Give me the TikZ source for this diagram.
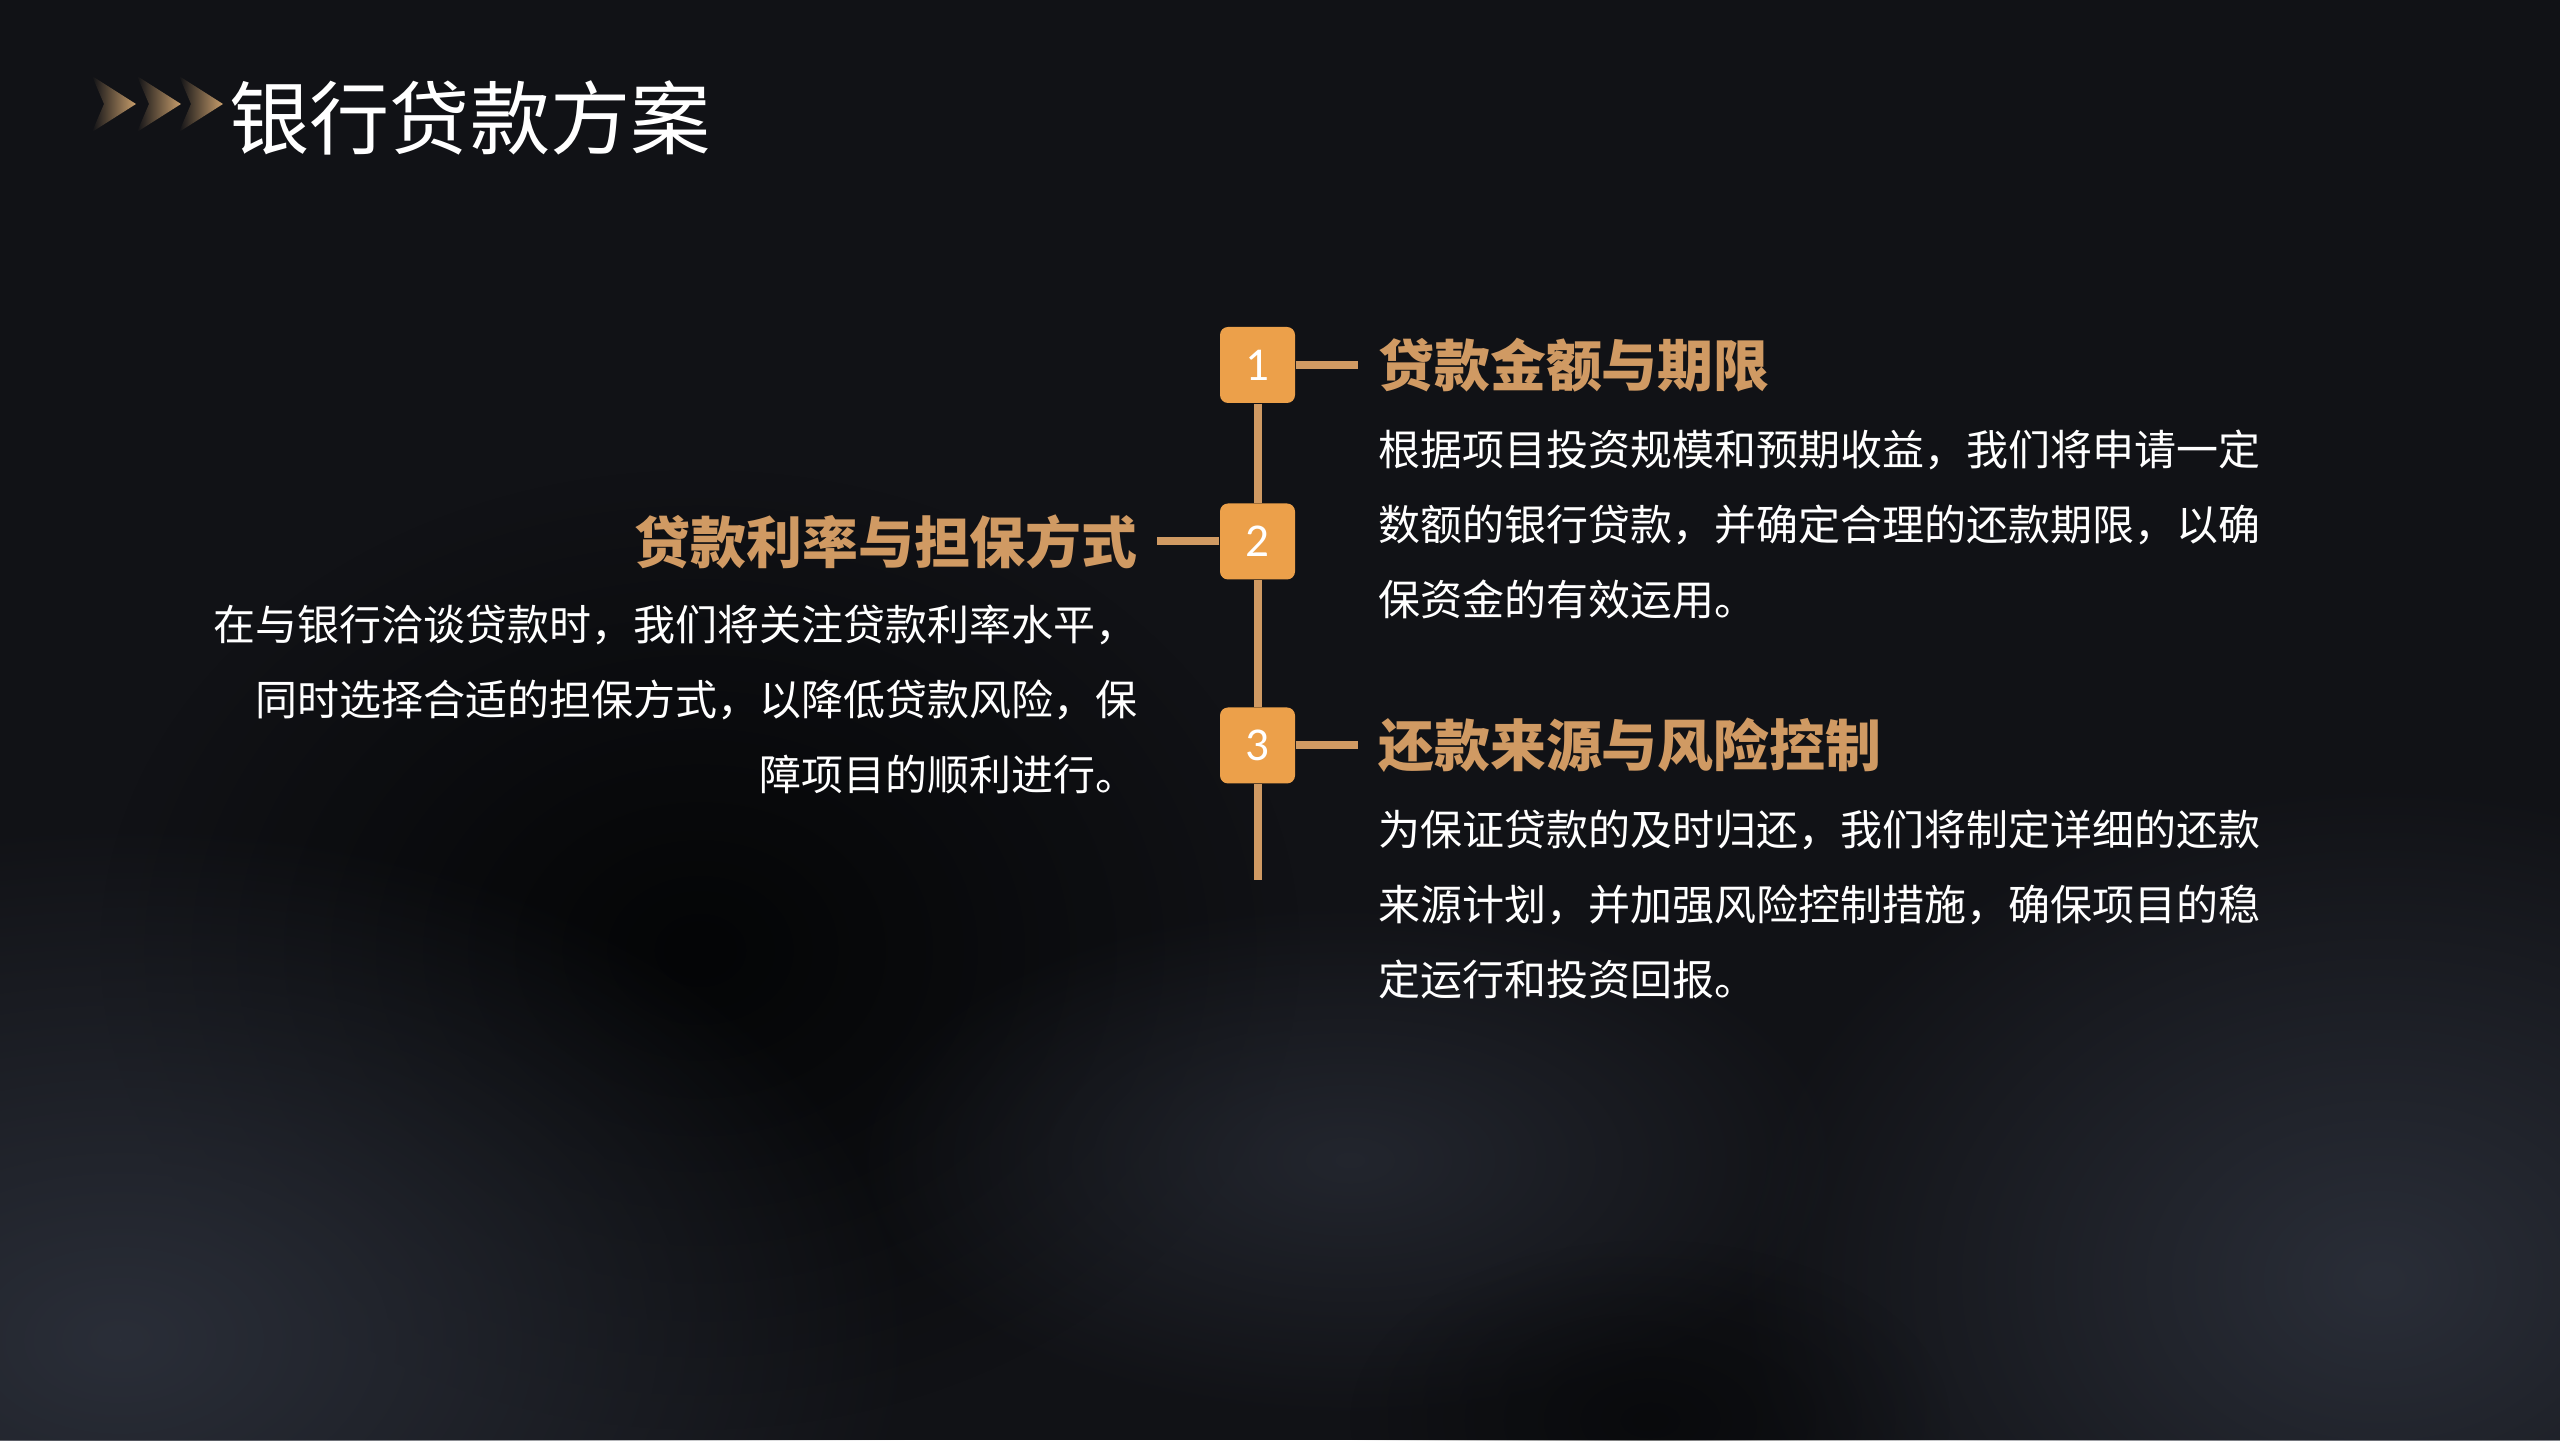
\documentclass[tikz,border=0pt]{standalone}
\usepackage{fontspec}
\usetikzlibrary{positioning,fadings}
\newfontfamily\cjk{Noto Sans CJK SC}
\newfontfamily\digits{Carlito}
\definecolor{bgbase}{HTML}{111216}
\definecolor{smoke}{HTML}{2A2E38}
\definecolor{shadow}{HTML}{040506}
\definecolor{tan}{HTML}{D09A63}
\definecolor{boxorange}{HTML}{ECA04A}
\definecolor{chevron}{HTML}{C89E6C}
\tikzfading[name=haze, inner color=transparent!0, outer color=transparent!100]
\tikzset{%
  % Specifications for style of nodes:
       numbox/.style = {rectangle, rounded corners=0.08cm, fill=boxorange,
                        minimum width=0.75cm, minimum height=0.76cm,
                        inner sep=0pt, text=white,
                        font=\digits\fontsize{13.4pt}{13.4pt}\selectfont},
      heading/.style = {inner sep=0pt, text=tan,
                        font=\cjk\bfseries\fontsize{15.9pt}{15.9pt}\selectfont},
     bodytext/.style = {inner sep=0pt, text=white,
                        font=\cjk\fontsize{11.95pt}{21.34pt}\selectfont},
    titletext/.style = {inner sep=0pt, text=white,
                        font=\cjk\fontsize{22.8pt}{22.8pt}\selectfont},
        spine/.style = {draw=tan, line width=0.08cm},
}

\begin{document}
\begin{tikzpicture}
  \useasboundingbox (0,0) rectangle (25.6,14.4);
  % Background haze
  \fill[bgbase] (0,0) rectangle (25.6,14.4);
  \fill[shadow, path fading=haze] (7.0,4.9) ellipse (6 and 4.8);
  \fill[smoke, path fading=haze] (1.2,1.0) ellipse (8 and 5.2);
  \fill[smoke, path fading=haze] (23.8,1.6) ellipse (6.5 and 5);
  \fill[smoke, opacity=0.7, path fading=haze] (13.5,2.8) ellipse (5 and 2.6);
  \fill[shadow, opacity=0.6, path fading=haze] (16.5,0.2) ellipse (3 and 1.8);
  % Title with chevrons
  \foreach \x in {0.92,1.37,1.79}
    \shade[left color=bgbase, right color=chevron]
      (\x,13.64) -- ++(0.44,-0.28) -- ++(-0.44,-0.28) -- ++(0.12,0.28) -- cycle;
  \node[titletext, anchor=west] (title) at (2.29,13.22) {银行贷款方案};
  % Specification of nodes (position, etc.)
  \node[numbox] (n1) at (12.575,10.75) {1};
  \node[numbox] (n2) at (12.575,8.985) {2};
  \node[numbox] (n3) at (12.575,6.945) {3};
  \coordinate[right=0.62cm of n1] (c1);
  \coordinate[left=0.62cm of n2] (c2);
  \coordinate[right=0.62cm of n3] (c3);
  \coordinate[below=0.96cm of n3] (tail);
  \node[heading, right=0.2cm of c1] (h1) {贷款金额与期限};
  \node[heading, left=0.19cm of c2] (h2) {贷款利率与担保方式};
  \node[heading, right=0.2cm of c3] (h3) {还款来源与风险控制};
  \node[bodytext, align=left, below right=0.36cm and 0cm of h1.south west] (b1)
    {根据项目投资规模和预期收益，我们将申请一定\\数额的银行贷款，并确定合理的还款期限，以确\\保资金的有效运用。};
  \node[bodytext, align=right, below left=0.35cm and 0cm of h2.south east] (b2)
    {在与银行洽谈贷款时，我们将关注贷款利率水平，\\同时选择合适的担保方式，以降低贷款风险，保\\障项目的顺利进行。};
  \node[bodytext, align=left, below right=0.36cm and 0cm of h3.south west] (b3)
    {为保证贷款的及时归还，我们将制定详细的还款\\来源计划，并加强风险控制措施，确保项目的稳\\定运行和投资回报。};
  % Lines between nodes
  \draw[spine] (n1) -- (n2);
  \draw[spine] (n2) -- (n3);
  \draw[spine] (n3) -- (tail);
  \draw[spine] (n1) -- (c1);
  \draw[spine] (n2) -- (c2);
  \draw[spine] (n3) -- (c3);
\end{tikzpicture}
\end{document}
